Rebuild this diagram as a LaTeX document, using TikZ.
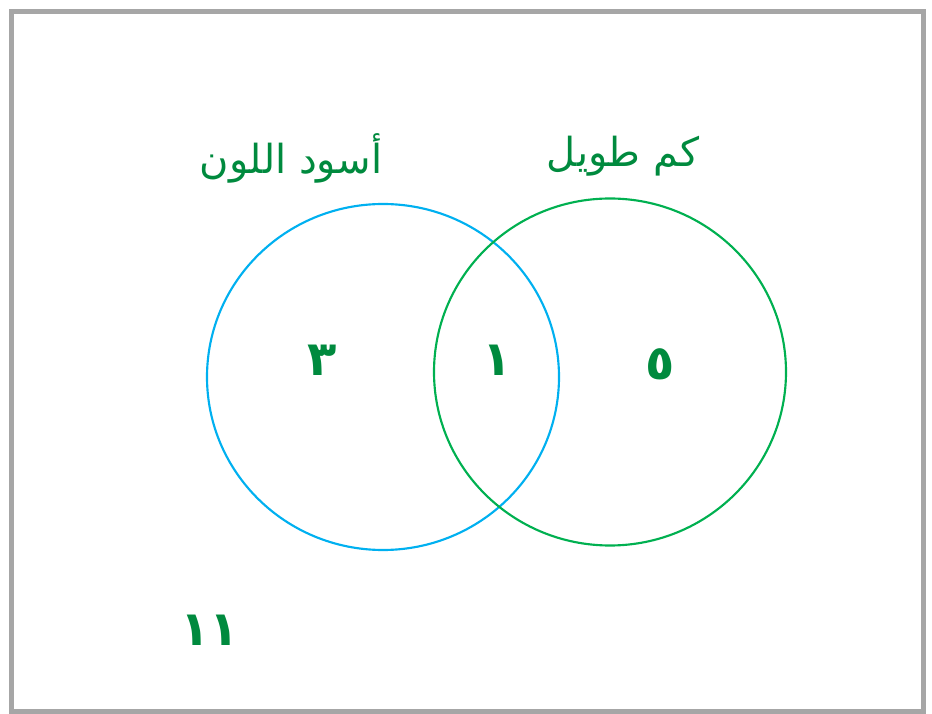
\documentclass[tikz,border=0pt]{standalone}
\usepackage{fontspec}
\newfontfamily\arabicfont[Script=Arabic]{DejaVu Sans}
\TeXXeTstate=1
\usetikzlibrary{positioning}
\definecolor{framegray}{RGB}{166,166,166}
\definecolor{setblue}{RGB}{0,176,240}
\definecolor{setgreen}{RGB}{0,176,80}
\definecolor{inkgreen}{RGB}{0,138,62}

\begin{document}
\begin{tikzpicture}[x=0.75pt, y=0.75pt,
    setlabel/.style={text=inkgreen, font=\arabicfont\fontsize{30}{36}\selectfont},
    setcount/.style={text=inkgreen, font=\arabicfont\bfseries\fontsize{36}{40}\selectfont}]
        \useasboundingbox (0,0) rectangle (932,714);
        % frame
        \draw[framegray, line width=3.75pt] (11.5,2.5) rectangle (923.5,702.5);
        % sets
        \draw[setblue, line width=1.6pt] (383,337) ellipse [x radius=176, y radius=173];
        \draw[setgreen, line width=1.6pt] (610,342) ellipse [x radius=176, y radius=173.5];
        % labels
        \node[setlabel] (black) at (291,556) {\beginR أسود اللون\endR};
        \node[setlabel] (sleeve) at (623,558) {\beginR كم طويل\endR};
        % counts
        \node[setcount] (onlyblack) at (322,354) {٣};
        \node[setcount] (both) at (497,354) {١};
        \node[setcount] (onlysleeve) at (660,350) {٥};
        \node[setcount] (neither) at (210,84) {١١};
      \end{tikzpicture}
\end{document}
